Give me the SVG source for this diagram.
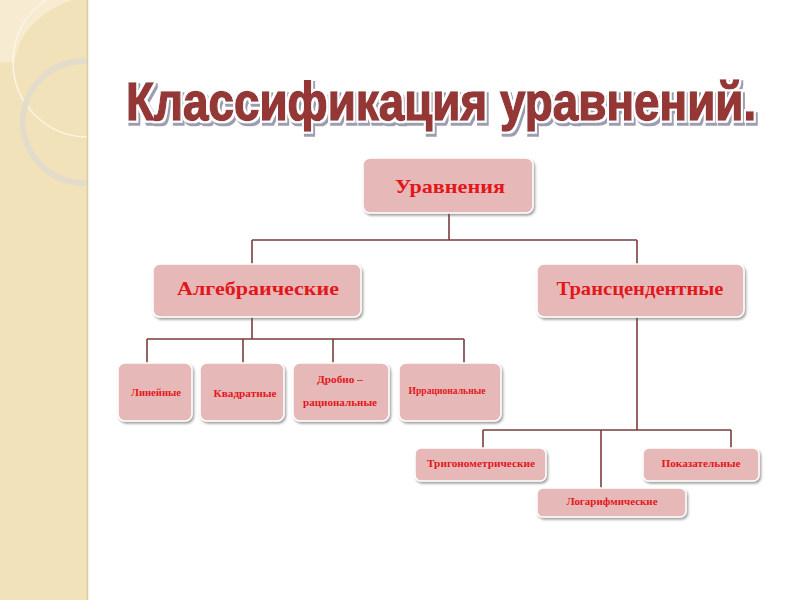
<svg xmlns="http://www.w3.org/2000/svg" width="800" height="600" viewBox="0 0 800 600">
<defs>
<style>
.box{fill:#e6b9b8;stroke:#ffffff;stroke-width:1.5;filter:url(#sh)}
.lbl{font-family:"Liberation Serif","Times New Roman",serif;font-weight:bold;fill:#e3161b;text-anchor:middle}
.big{font-size:19px}
.sm{font-size:10.5px}
.con{fill:none;stroke:#7b3d3d;stroke-width:1.6}
.ttl{font-family:"Liberation Sans Narrow","Liberation Sans",Arial,sans-serif;font-weight:bold;font-size:54px;fill:#953735;stroke:#953735;stroke-width:1.6}
</style>
<filter id="sh" x="-10%" y="-20%" width="125%" height="150%">
<feDropShadow dx="1.5" dy="2" stdDeviation="1.3" flood-color="#555" flood-opacity="0.55"/>
</filter>
<filter id="tsh" filterUnits="userSpaceOnUse" x="100" y="60" width="680" height="90">
<feMorphology in="SourceAlpha" operator="dilate" radius="1.6" result="d"/>
<feOffset in="d" dx="2" dy="2.5" result="o"/>
<feFlood flood-color="#7c7c96" flood-opacity="0.75"/>
<feComposite in2="o" operator="in" result="shadow"/>
<feFlood flood-color="#ffffff"/>
<feComposite in2="d" operator="in" result="outline"/>
<feMerge><feMergeNode in="shadow"/><feMergeNode in="outline"/><feMergeNode in="SourceGraphic"/></feMerge>
</filter>
<clipPath id="panel"><rect x="0" y="0" width="88" height="600"/></clipPath>
</defs>
<rect x="0" y="0" width="800" height="600" fill="#ffffff"/>
<g id="side-panel">
<rect x="0" y="0" width="88" height="600" fill="#f2e2ba"/>
<g clip-path="url(#panel)">
<path d="M0,0 L72,0 Q22,18 14,62 L0,62 Z" fill="#f7ecd2"/>
<circle cx="88" cy="62" r="75" fill="none" stroke="#fbf5e6" stroke-width="1.5"/>
<circle cx="84" cy="122" r="61" fill="none" stroke="#e3dccb" stroke-width="6"/>
</g>
<line x1="87.5" y1="0" x2="87.5" y2="600" stroke="#dccb9d" stroke-width="1.5"/>
</g>
<g id="title" filter="url(#tsh)">
<text class="ttl" transform="translate(126,120) scale(0.92,1)" x="0" y="0" textLength="685" lengthAdjust="spacingAndGlyphs">Классификация уравнений.</text>
</g>
<g id="connectors">
<path class="con" d="M449,213 V240 M252,240 H637 M252,240 V264 M637,240 V264"/>
<path class="con" d="M252,317 V339 M147,339 H464 M147,339 V363 M243,339 V363 M333,339 V363 M464,339 V363"/>
<path class="con" d="M637,317 V430 M483,430 H731 M483,430 V448 M601,430 V488 M731,430 V448"/>
</g>
<g id="n-uravneniya">
<rect class="box" x="363" y="158" width="170" height="55" rx="7"/>
<text class="lbl big" x="450" y="193" textLength="110" lengthAdjust="spacingAndGlyphs">Уравнения</text>
</g>
<g id="n-algebraic">
<rect class="box" x="153" y="264" width="208" height="53" rx="7"/>
<text class="lbl big" x="258" y="295" textLength="162" lengthAdjust="spacingAndGlyphs">Алгебраические</text>
</g>
<g id="n-transcendent">
<rect class="box" x="537" y="264" width="207" height="53" rx="7"/>
<text class="lbl big" x="640" y="295" textLength="167" lengthAdjust="spacingAndGlyphs">Трансцендентные</text>
</g>
<g id="n-linear">
<rect class="box" x="118" y="363" width="74" height="58" rx="7"/>
<text class="lbl sm" x="156" y="396" textLength="50" lengthAdjust="spacingAndGlyphs">Линейные</text>
</g>
<g id="n-quadratic">
<rect class="box" x="200" y="363" width="84" height="58" rx="7"/>
<text class="lbl sm" x="245" y="397" textLength="63" lengthAdjust="spacingAndGlyphs">Квадратные</text>
</g>
<g id="n-fractional">
<rect class="box" x="293" y="363" width="96" height="58" rx="7"/>
<text class="lbl sm" x="340" y="383" textLength="46" lengthAdjust="spacingAndGlyphs">Дробно –</text>
<text class="lbl sm" x="340" y="406" textLength="74" lengthAdjust="spacingAndGlyphs">рациональные</text>
</g>
<g id="n-irrational">
<rect class="box" x="399" y="363" width="102" height="58" rx="7"/>
<text class="lbl sm" x="447" y="394" font-size="9.5" textLength="77" lengthAdjust="spacingAndGlyphs">Иррациональные</text>
</g>
<g id="n-trig">
<rect class="box" x="415" y="448" width="131" height="33" rx="6"/>
<text class="lbl sm" x="481" y="467" textLength="108" lengthAdjust="spacingAndGlyphs">Тригонометрические</text>
</g>
<g id="n-exp">
<rect class="box" x="643" y="448" width="116" height="33" rx="6"/>
<text class="lbl sm" x="701" y="467" textLength="79" lengthAdjust="spacingAndGlyphs">Показательные</text>
</g>
<g id="n-log">
<rect class="box" x="537" y="488" width="149" height="29" rx="6"/>
<text class="lbl sm" x="612" y="505" textLength="91" lengthAdjust="spacingAndGlyphs">Логарифмические</text>
</g>
</svg>
